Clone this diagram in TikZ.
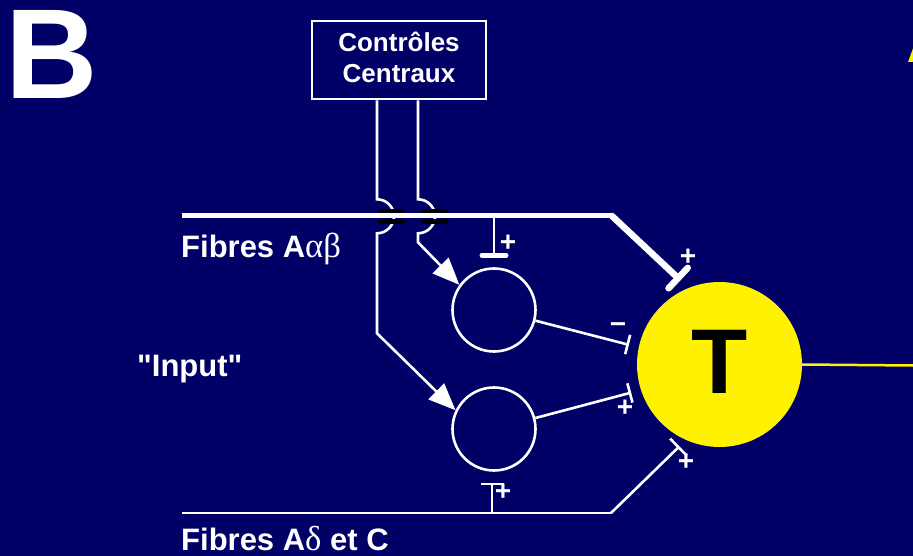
\documentclass[tikz,border=0pt]{standalone}
\usepackage{fontspec}
\setmainfont{Liberation Sans}[Ligatures=TeXOff]
\newfontfamily\greekfont{Liberation Serif}[Scale=1.12]
\usetikzlibrary{arrows.meta}
\definecolor{navy}{RGB}{0,0,102}
\tikzset{
  fibre/.style={draw=white,line width=2.6pt},
  feed/.style={fibre,-{Triangle[length=27pt,width=22pt]}},
  cell/.style={circle,draw=white,line width=2.6pt,minimum size=83pt,inner sep=0pt},
  signtext/.style={text=white,inner sep=0pt,font=\bfseries\fontsize{28}{28}\selectfont},
  fibname/.style={text=white,inner sep=0pt,anchor=base west,font=\bfseries\fontsize{31}{31}\selectfont},
}
\begin{document}
\begin{tikzpicture}[x=1pt,y=-1pt]

% Background
\fill[navy] (0,0) rectangle (913,556);
\useasboundingbox (0,0) rectangle (913,556);
\clip (0,0) rectangle (913,556);

% Panel letters
\node[anchor=base west,inner sep=0pt,text height=92pt,text depth=0pt,text=white,font=\bfseries\fontsize{128}{128}\selectfont] (panel) at (5,99) {B};
\node[anchor=base west,inner sep=0pt,text height=13pt,text depth=0pt,text=yellow,font=\bfseries\fontsize{40}{40}\selectfont] (nextpanel) at (907,63) {A};

% Central controls
\node[draw=white,line width=2.6pt,minimum width=174pt,minimum height=78pt,align=center,text depth=6pt,text=white,font=\bfseries\fontsize{26}{31}\selectfont] (ctrl) at (399,60) {Contrôles\\Centraux};

% The T cell and the two interneurons
\node[circle,fill=yellow,minimum size=165pt,inner sep=0pt,text depth=6pt,font=\bfseries\fontsize{92}{92}\selectfont] (T) at (719.5,364.5) {T};
\node[cell] (i1) at (494,310) {};
\node[cell] (i2) at (494,429) {};

% Ends of the two input fibres
\coordinate (a0) at (182,216);
\coordinate (a1) at (612,216);
\coordinate (c0) at (182,513);
\coordinate (c1) at (611,513);

% Descending fibres from the central controls
\draw[feed] ([xshift=-22pt]ctrl.south) -- ++(0,99) arc (-90:90:17) -- ++(0,100) -- (i2.154);
\draw[feed] ([xshift=19pt]ctrl.south) -- ++(0,99) arc (-90:90:17) -- ++(0,9) -- (i1.144);

% Crossing marks
\foreach \x in {391.5,435} {
  \draw[black,line width=5pt,line cap=round] (\x-11,211.5) -- (\x+11,211.5);
  \draw[black,line width=5pt,line cap=round] (\x-11,221.5) -- (\x+11,221.5);
}

% Fibres A alpha beta
\draw[white,line width=5pt] (a0) -- (a1);
\draw[white,line width=6.5pt,line cap=round,-{Bar[width=28pt,round]},shorten >=11pt] (a1) -- (T.112);
\draw[fibre,-{Bar[width=24pt,line width=5pt,round]},shorten >=9.5pt] (a0 -| i1) -- (i1.north);

% Fibres A delta and C
\draw[fibre] (c0) -- (c1);
\draw[fibre,-{Bar[width=24pt]},shorten >=9pt] (c1) -- (T.246);
\draw[fibre,-{Bar[width=23pt]},shorten >=11pt] ([xshift=-2pt]c0 -| i2) -- ([xshift=-2pt]i2.south);

% Interneurons onto T
\draw[fibre,-{Bar[width=20pt]},shorten >=10pt] (i1) -- (T.168);
\draw[fibre,-{Bar[width=20pt]},shorten >=10pt] (i2) -- (T.198);

% Output of T
\coordinate (out) at (913,365.5);
\draw[yellow,line width=2.5pt] (T.east) -- (out);

% Signs of the synapses
\node[signtext] (s1) at (508,243) {+};
\node[signtext] (s2) at (688,257) {+};
\node[signtext] (s3) at (618,328) {−};
\node[signtext] (s4) at (625,408) {+};
\node[signtext] (s5) at (686,462) {+};
\node[signtext] (s6) at (503,492) {+};

% Fibre names
\node[fibname] (fa) at (181,258) {Fibres A{\greekfont\mdseries αβ}};
\node[fibname] (inp) at (137,376) {"Input"};
\node[fibname] (fc) at (181,550) {Fibres A{\greekfont\mdseries δ} et C};

\end{tikzpicture}
\end{document}
